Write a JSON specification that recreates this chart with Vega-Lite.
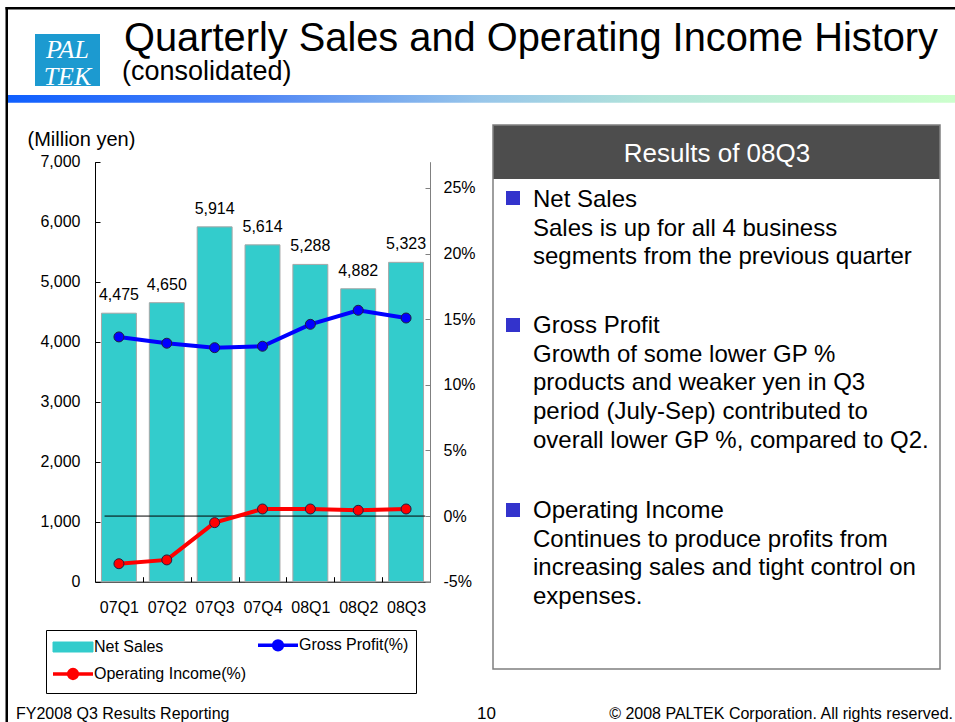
{
  "$schema": "https://vega.github.io/schema/vega-lite/v6.json",
  "width": 955,
  "height": 722,
  "padding": 0,
  "autosize": {"type": "none"},
  "background": "white",
  "config": {
    "view": {"stroke": null},
    "font": "Liberation Sans",
    "text": {"font": "Liberation Sans"}
  },
  "datasets": {
    "sales": [
      {"quarter": "07Q1", "net_sales": 4475},
      {"quarter": "07Q2", "net_sales": 4650},
      {"quarter": "07Q3", "net_sales": 5914},
      {"quarter": "07Q4", "net_sales": 5614},
      {"quarter": "08Q1", "net_sales": 5288},
      {"quarter": "08Q2", "net_sales": 4882},
      {"quarter": "08Q3", "net_sales": 5323}
    ],
    "pct": [
      {"quarter": "07Q1", "series": "Gross Profit(%)", "value": 13.65},
      {"quarter": "07Q2", "series": "Gross Profit(%)", "value": 13.17},
      {"quarter": "07Q3", "series": "Gross Profit(%)", "value": 12.83},
      {"quarter": "07Q4", "series": "Gross Profit(%)", "value": 12.94},
      {"quarter": "08Q1", "series": "Gross Profit(%)", "value": 14.61},
      {"quarter": "08Q2", "series": "Gross Profit(%)", "value": 15.68},
      {"quarter": "08Q3", "series": "Gross Profit(%)", "value": 15.09},
      {"quarter": "07Q1", "series": "Operating Income(%)", "value": -3.63},
      {"quarter": "07Q2", "series": "Operating Income(%)", "value": -3.34},
      {"quarter": "07Q3", "series": "Operating Income(%)", "value": -0.5},
      {"quarter": "07Q4", "series": "Operating Income(%)", "value": 0.54},
      {"quarter": "08Q1", "series": "Operating Income(%)", "value": 0.54},
      {"quarter": "08Q2", "series": "Operating Income(%)", "value": 0.44},
      {"quarter": "08Q3", "series": "Operating Income(%)", "value": 0.54}
    ]
  },
  "layer": [
    {
      "data": {"values": [{}]},
      "layer": [
        {
          "mark": {"type": "rect", "fill": "black"},
          "encoding": {
            "x": {"datum": 5.5, "type": "quantitative", "scale": {"domain": [0, 955], "nice": false, "zero": false}, "axis": null},
            "x2": {"datum": 955},
            "y": {"datum": 7, "type": "quantitative", "scale": {"domain": [0, 722], "nice": false, "zero": false, "reverse": true}, "axis": null},
            "y2": {"datum": 9.5}
          }
        },
        {
          "mark": {"type": "rect", "fill": "black"},
          "encoding": {
            "x": {"datum": 5.5, "type": "quantitative"},
            "x2": {"datum": 8},
            "y": {"datum": 7, "type": "quantitative"},
            "y2": {"datum": 722}
          }
        },
        {
          "mark": {
            "type": "rect",
            "fill": {
              "gradient": "linear", "x1": 0, "y1": 0, "x2": 1, "y2": 0,
              "stops": [
                {"offset": 0, "color": "#0F5FFF"},
                {"offset": 0.25, "color": "#4B82F6"},
                {"offset": 0.5, "color": "#98C6EA"},
                {"offset": 0.68, "color": "#B2E4DA"},
                {"offset": 1, "color": "#CCFFCC"}
              ]
            }
          },
          "encoding": {
            "x": {"datum": 8, "type": "quantitative"},
            "x2": {"datum": 955},
            "y": {"datum": 95, "type": "quantitative"},
            "y2": {"datum": 102.7}
          }
        },
        {
          "mark": {"type": "rect", "fill": "#1C9AD0"},
          "encoding": {
            "x": {"datum": 35, "type": "quantitative"},
            "x2": {"datum": 100},
            "y": {"datum": 34, "type": "quantitative"},
            "y2": {"datum": 86}
          }
        },
        {
          "mark": {"type": "text", "text": ["PAL", "TEK"], "lineHeight": 27, "font": "Liberation Serif", "fontStyle": "italic", "fontSize": 26, "color": "white", "align": "center", "baseline": "alphabetic"},
          "encoding": {
            "x": {"datum": 67.5, "type": "quantitative"},
            "y": {"datum": 58, "type": "quantitative"}
          }
        },
        {
          "mark": {"type": "text", "text": "Quarterly Sales and Operating Income History", "fontSize": 39.8, "color": "black", "align": "left", "baseline": "alphabetic"},
          "encoding": {
            "x": {"datum": 124, "type": "quantitative"},
            "y": {"datum": 51, "type": "quantitative"}
          }
        },
        {
          "mark": {"type": "text", "text": "(consolidated)", "fontSize": 27, "color": "black", "align": "left", "baseline": "alphabetic"},
          "encoding": {
            "x": {"datum": 122, "type": "quantitative"},
            "y": {"datum": 80, "type": "quantitative"}
          }
        },
        {
          "mark": {"type": "rect", "fill": "white", "stroke": "#7F7F7F", "strokeWidth": 1.5},
          "encoding": {
            "x": {"datum": 493, "type": "quantitative"},
            "x2": {"datum": 940},
            "y": {"datum": 125, "type": "quantitative"},
            "y2": {"datum": 669}
          }
        },
        {
          "mark": {"type": "rect", "fill": "#4D4D4D"},
          "encoding": {
            "x": {"datum": 493.5, "type": "quantitative"},
            "x2": {"datum": 939.5},
            "y": {"datum": 125.5, "type": "quantitative"},
            "y2": {"datum": 179}
          }
        },
        {
          "mark": {"type": "text", "text": "Results of 08Q3", "fontSize": 26, "color": "white", "align": "center", "baseline": "alphabetic"},
          "encoding": {
            "x": {"datum": 717, "type": "quantitative"},
            "y": {"datum": 162, "type": "quantitative"}
          }
        },
        {
          "mark": {"type": "rect", "fill": "#3333CC"},
          "encoding": {
            "x": {"datum": 506, "type": "quantitative"},
            "x2": {"datum": 520},
            "y": {"datum": 191, "type": "quantitative"},
            "y2": {"datum": 205}
          }
        },
        {
          "mark": {"type": "rect", "fill": "#3333CC"},
          "encoding": {
            "x": {"datum": 506, "type": "quantitative"},
            "x2": {"datum": 520},
            "y": {"datum": 318, "type": "quantitative"},
            "y2": {"datum": 332}
          }
        },
        {
          "mark": {"type": "rect", "fill": "#3333CC"},
          "encoding": {
            "x": {"datum": 506, "type": "quantitative"},
            "x2": {"datum": 520},
            "y": {"datum": 503, "type": "quantitative"},
            "y2": {"datum": 517}
          }
        },
        {
          "mark": {"type": "text", "text": ["Net Sales", "Sales is up for all 4 business", "segments from the previous quarter"], "lineHeight": 28.65, "fontSize": 24, "color": "black", "align": "left", "baseline": "alphabetic"},
          "encoding": {
            "x": {"datum": 533, "type": "quantitative"},
            "y": {"datum": 207, "type": "quantitative"}
          }
        },
        {
          "mark": {"type": "text", "text": ["Gross Profit", "Growth of some lower GP %", "products and weaker yen in Q3", "period (July-Sep) contributed to", "overall lower GP %, compared to Q2."], "lineHeight": 28.65, "fontSize": 24, "color": "black", "align": "left", "baseline": "alphabetic"},
          "encoding": {
            "x": {"datum": 533, "type": "quantitative"},
            "y": {"datum": 333, "type": "quantitative"}
          }
        },
        {
          "mark": {"type": "text", "text": ["Operating Income", "Continues to produce profits from", "increasing sales and tight control on", "expenses."], "lineHeight": 28.65, "fontSize": 24, "color": "black", "align": "left", "baseline": "alphabetic"},
          "encoding": {
            "x": {"datum": 533, "type": "quantitative"},
            "y": {"datum": 518, "type": "quantitative"}
          }
        },
        {
          "mark": {"type": "text", "text": "FY2008 Q3 Results Reporting", "fontSize": 16, "color": "black", "align": "left", "baseline": "alphabetic"},
          "encoding": {
            "x": {"datum": 16, "type": "quantitative"},
            "y": {"datum": 718.5, "type": "quantitative"}
          }
        },
        {
          "mark": {"type": "text", "text": "10", "fontSize": 17, "color": "black", "align": "center", "baseline": "alphabetic"},
          "encoding": {
            "x": {"datum": 486.5, "type": "quantitative"},
            "y": {"datum": 719, "type": "quantitative"}
          }
        },
        {
          "mark": {"type": "text", "text": "© 2008 PALTEK Corporation. All rights reserved.", "fontSize": 16, "color": "black", "align": "right", "baseline": "alphabetic"},
          "encoding": {
            "x": {"datum": 953, "type": "quantitative"},
            "y": {"datum": 718.5, "type": "quantitative"}
          }
        }
      ]
    },
    {
      "layer": [
        {
          "data": {"name": "sales"},
          "layer": [
            {
              "mark": {"type": "bar", "width": {"band": 0.73}, "stroke": "#A6A6A6", "strokeWidth": 1},
              "encoding": {
                "x": {
                  "field": "quarter", "type": "nominal", "sort": null,
                  "scale": {"domain": ["07Q1", "07Q2", "07Q3", "07Q4", "08Q1", "08Q2", "08Q3"], "range": [95, 430], "paddingInner": 0, "paddingOuter": 0},
                  "axis": {
                    "title": null, "orient": "bottom", "offset": -140.3, "tickBand": "extent",
                    "tickSize": -5, "labelPadding": 23, "labelFontSize": 16, "labelColor": "black",
                    "domainColor": "black", "tickColor": "black", "labelAngle": 0, "labelOverlap": false, "grid": false
                  }
                },
                "y": {
                  "field": "net_sales", "type": "quantitative",
                  "scale": {"domain": [0, 7000], "range": [581.7, 161.7], "nice": false},
                  "axis": {
                    "orient": "left", "offset": -95, "values": [0, 1000, 2000, 3000, 4000, 5000, 6000, 7000],
                    "labelExpr": "format(datum.value, ',.0f')",
                    "tickSize": -5, "labelPadding": 20, "labelFontSize": 16, "labelColor": "black",
                    "domainColor": "black", "tickColor": "black", "grid": false,
                    "title": "(Million yen)", "titleAngle": 0, "titleAlign": "left", "titleBaseline": "alphabetic",
                    "titleX": -68, "titleY": 145, "titleFontSize": 20, "titleFontWeight": "normal", "titleColor": "black"
                  }
                },
                "color": {
                  "datum": "Net Sales", "type": "nominal",
                  "scale": {"domain": ["Net Sales", "Gross Profit(%)", "Operating Income(%)"], "range": ["#33CCCC", "#0000FF", "#FF0000"]},
                  "legend": {
                    "title": null, "orient": "none", "legendX": 46, "legendY": 630, "direction": "horizontal", "columns": 2,
                    "padding": 7, "strokeColor": "black", "fillColor": "white", "labelFontSize": 16, "labelColor": "black",
                    "labelLimit": 400, "symbolSize": 256, "labelOffset": 25, "columnPadding": 4, "rowPadding": 5,
                    "encode": {
                      "legend": {"update": {"width": {"value": 414}}},
                      "symbols": {
                        "update": {
                          "shape": {"signal": "datum.value === 'Net Sales' ? 'M-1,-0.625H4V0.625H-1Z' : 'M-1,0H4M0.95,0A0.55,0.55 0 1,1 2.05,0A0.55,0.55 0 1,1 0.95,0Z'"},
                          "fill": {"signal": "scale('color', datum.value)"},
                          "stroke": {"signal": "datum.value === 'Net Sales' ? '#A6A6A6' : scale('color', datum.value)"},
                          "strokeWidth": {"signal": "datum.value === 'Net Sales' ? 1 : 3.5"},
                          "opacity": {"value": 1},
                          "fillOpacity": {"value": 1},
                          "strokeOpacity": {"value": 1}
                        }
                      }
                    }
                  }
                }
              }
            },
            {
              "mark": {"type": "text", "dy": -13, "fontSize": 16, "color": "black", "align": "center", "baseline": "alphabetic"},
              "encoding": {
                "x": {"field": "quarter", "type": "nominal", "sort": null},
                "y": {"field": "net_sales", "type": "quantitative"},
                "text": {"field": "net_sales", "type": "quantitative", "format": ","}
              }
            }
          ]
        },
        {
          "layer": [
            {
              "data": {"values": [{}]},
              "mark": {"type": "rule", "color": "black", "strokeWidth": 1},
              "encoding": {
                "x": {"datum": "07Q1", "type": "nominal", "bandPosition": 0.2},
                "x2": {"datum": "08Q3", "bandPosition": 0.9},
                "y": {"datum": 0, "type": "quantitative"}
              }
            },
            {
              "data": {"name": "pct"},
              "mark": {"type": "line", "strokeWidth": 4, "point": {"filled": true, "size": 100, "stroke": "#202040", "strokeWidth": 1}},
              "encoding": {
                "x": {"field": "quarter", "type": "nominal", "sort": null},
                "y": {
                  "field": "value", "type": "quantitative",
                  "scale": {"domain": [-5, 27], "range": [581.7, 161.7], "nice": false, "zero": false},
                  "axis": {
                    "orient": "right", "offset": -525, "values": [-5, 0, 5, 10, 15, 20, 25], "labelExpr": "datum.value + '%'",
                    "tickSize": -5, "labelPadding": 18, "labelFontSize": 16, "labelColor": "black",
                    "domainColor": "#808080", "tickColor": "#808080", "grid": false, "title": null
                  }
                },
                "color": {
                  "field": "series", "type": "nominal",
                  "legend": {
                    "title": null, "orient": "none", "legendX": 46, "legendY": 630, "direction": "horizontal", "columns": 2,
                    "padding": 7, "strokeColor": "black", "fillColor": "white", "labelFontSize": 16, "labelColor": "black",
                    "labelLimit": 400, "symbolSize": 256, "labelOffset": 25, "columnPadding": 4, "rowPadding": 5,
                    "encode": {
                      "legend": {"update": {"width": {"value": 414}}},
                      "symbols": {
                        "update": {
                          "shape": {"signal": "datum.value === 'Net Sales' ? 'M-1,-0.625H4V0.625H-1Z' : 'M-1,0H4M0.95,0A0.55,0.55 0 1,1 2.05,0A0.55,0.55 0 1,1 0.95,0Z'"},
                          "fill": {"signal": "scale('color', datum.value)"},
                          "stroke": {"signal": "datum.value === 'Net Sales' ? '#A6A6A6' : scale('color', datum.value)"},
                          "strokeWidth": {"signal": "datum.value === 'Net Sales' ? 1 : 3.5"},
                          "opacity": {"value": 1},
                          "fillOpacity": {"value": 1},
                          "strokeOpacity": {"value": 1}
                        }
                      }
                    }
                  }
                }
              }
            }
          ]
        }
      ],
      "resolve": {"scale": {"y": "independent"}}
    }
  ],
  "resolve": {"scale": {"x": "independent", "y": "independent"}}
}
